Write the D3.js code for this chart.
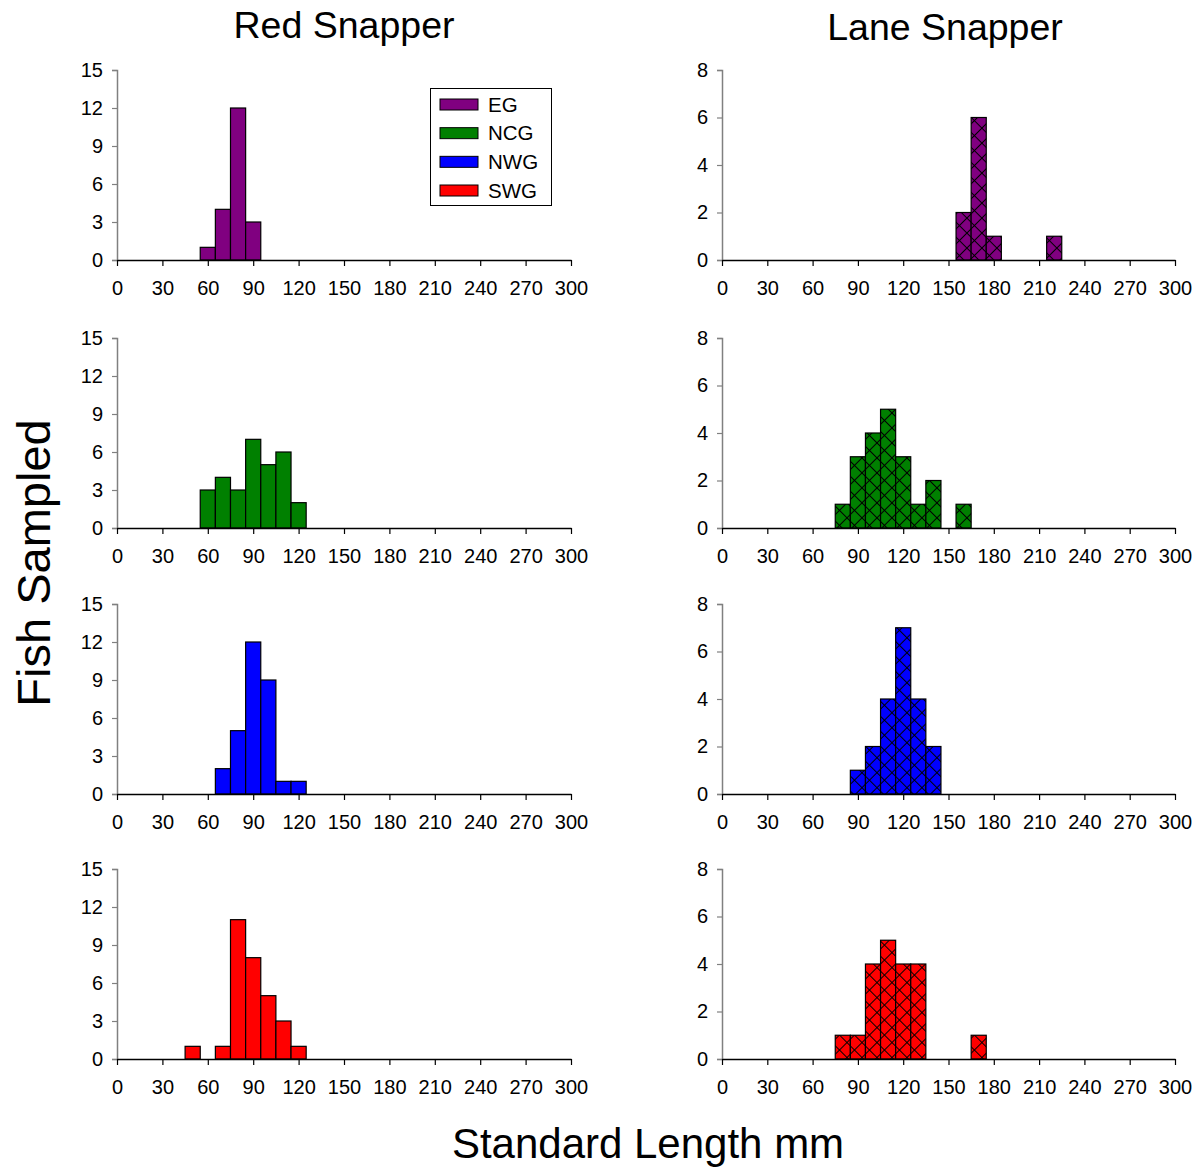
<!DOCTYPE html>
<html><head><meta charset="utf-8">
<script src="https://cdn.jsdelivr.net/npm/d3@7"></script>
<style>body{margin:0;background:#fff}svg{display:block;font-family:"Liberation Sans",Arial,sans-serif}</style>
</head><body>
<script>
// ---- data ----
const regions = ["EG", "NCG", "NWG", "SWG"];
const regionColors = ["#800080", "#008000", "#0000FF", "#FF0000"];
const xTicks = [0, 30, 60, 90, 120, 150, 180, 210, 240, 270, 300];
const redTicks = [0, 3, 6, 9, 12, 15];
const laneTicks = [0, 2, 4, 6, 8];
// bins: [centre length mm, count], bin width 10 mm
const redEG  = [[60,1],[70,4],[80,12],[90,3]];
const redNCG = [[60,3],[70,4],[80,3],[90,7],[100,5],[110,6],[120,2]];
const redNWG = [[70,2],[80,5],[90,12],[100,9],[110,1],[120,1]];
const redSWG = [[50,1],[70,1],[80,11],[90,8],[100,5],[110,3],[120,1]];
const laneEG  = [[160,2],[170,6],[180,1],[220,1]];
const laneNCG = [[80,1],[90,3],[100,4],[110,5],[120,3],[130,1],[140,2],[160,1]];
const laneNWG = [[90,1],[100,2],[110,4],[120,7],[130,4],[140,2]];
const laneSWG = [[80,1],[90,1],[100,4],[110,5],[120,4],[130,4],[170,1]];
const binWidth = 10;

const W = 1201, H = 1169;
const svg = d3.select("body").append("svg").attr("width", W).attr("height", H);
const defs = svg.append("defs");
const P = 10.6;
const hp = defs.append("pattern").attr("id","hatch").attr("patternUnits","userSpaceOnUse")
  .attr("width",P).attr("height",P).attr("patternTransform","rotate(45)");
hp.append("path").attr("d",`M0,0.5H${P}M0.5,0V${P}`).attr("stroke","#000").attr("stroke-width",1).attr("fill","none");

const rowsY = [[70,260],[338,528],[604,794],[869,1059]];
const cols = [
  {x0:117, x1:571, data:[redEG,redNCG,redNWG,redSWG], ticks:redTicks, max:15, hatch:false},
  {x0:722, x1:1175, data:[laneEG,laneNCG,laneNWG,laneSWG], ticks:laneTicks, max:8, hatch:true}
];
const FONT = "Liberation Sans, Arial, sans-serif";

cols.forEach(col => {
  const x = d3.scaleLinear().domain([0,300]).range([col.x0,col.x1]);
  col.data.forEach((series, r) => {
    const y = d3.scaleLinear().domain([0,col.max]).range([rowsY[r][1], rowsY[r][0]]);
    const g = svg.append("g");
    const bars = g.selectAll("g.bar").data(series).join("g");
    const bx = d => x(d[0]-binWidth/2), bw = d => x(d[0]+binWidth/2)-x(d[0]-binWidth/2);
    bars.append("rect").attr("x", bx).attr("width", bw)
      .attr("y", d => y(d[1])).attr("height", d => y(0)-y(d[1]))
      .attr("fill", regionColors[r]);
    if (col.hatch) {
      bars.append("rect").attr("x", bx).attr("width", bw)
        .attr("y", d => y(d[1])).attr("height", d => y(0)-y(d[1]))
        .attr("fill", "url(#hatch)");
    }
    bars.append("rect").attr("x", bx).attr("width", bw)
      .attr("y", d => y(d[1])).attr("height", d => y(0)-y(d[1]))
      .attr("fill", "none").attr("stroke","#000").attr("stroke-width",1.2);

    const ya = g.append("g").attr("transform",`translate(${col.x0},0)`)
      .call(d3.axisLeft(y).tickValues(col.ticks).tickSize(5).tickPadding(9).tickFormat(d3.format("d")));
    ya.select(".domain").attr("stroke","#808080").attr("stroke-width",1.5);
    ya.selectAll(".tick line").attr("stroke","#808080").attr("stroke-width",1.2);
    ya.selectAll("text").attr("font-size",20).attr("fill","#000").attr("font-family",FONT);

    const xa = g.append("g").attr("transform",`translate(0,${rowsY[r][1]})`)
      .call(d3.axisBottom(x).tickValues(xTicks).tickSize(6).tickSizeOuter(0).tickPadding(15).tickFormat(d3.format("d")));
    xa.select(".domain").attr("stroke","#000").attr("stroke-width",1.5);
    xa.selectAll(".tick line").attr("stroke","#000").attr("stroke-width",1.2);
    xa.selectAll("text").attr("font-size",20).attr("fill","#000").attr("font-family",FONT);
  });
});

// titles
svg.append("text").attr("x",344).attr("y",38).attr("text-anchor","middle").attr("font-size",37.5).text("Red Snapper");
svg.append("text").attr("x",945).attr("y",40).attr("text-anchor","middle").attr("font-size",37.5).text("Lane Snapper");
svg.append("text").attr("transform","translate(50,563) rotate(-90)").attr("text-anchor","middle").attr("font-size",47).text("Fish Sampled");
svg.append("text").attr("x",648).attr("y",1158).attr("text-anchor","middle").attr("font-size",42).text("Standard Length mm");

// legend
const lg = svg.append("g");
lg.append("rect").attr("x",430.5).attr("y",88.5).attr("width",121).attr("height",117)
  .attr("fill","#fff").attr("stroke","#000").attr("stroke-width",1);
const ly = d3.scalePoint().domain(regions).range([104,190]);
regions.forEach((reg,i) => {
  lg.append("rect").attr("x",440).attr("y",ly(reg)-5).attr("width",38).attr("height",11)
    .attr("fill",regionColors[i]).attr("stroke","#000").attr("stroke-width",1);
  lg.append("text").attr("x",488).attr("y",ly(reg)+7.5).attr("font-size",20.5).text(reg);
});
</script>
</body></html>
